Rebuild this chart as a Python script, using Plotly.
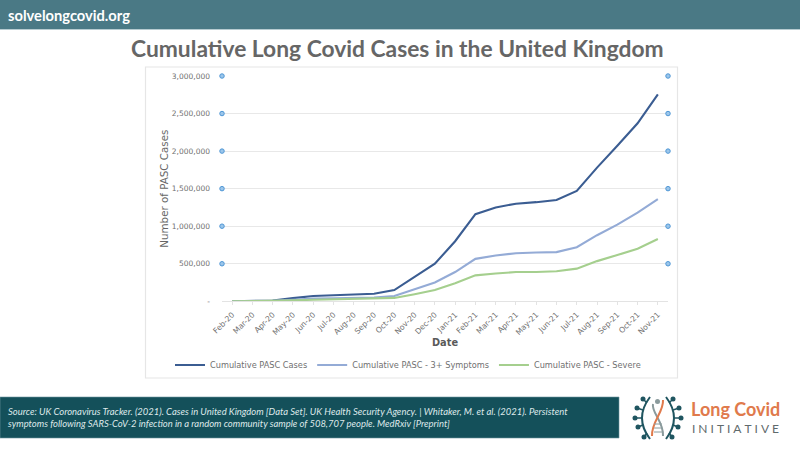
import plotly.graph_objects as go

months = ["Feb-20","Mar-20","Apr-20","May-20","Jun-20","Jul-20","Aug-20","Sep-20","Oct-20","Nov-20","Dec-20",
          "Jan-21","Feb-21","Mar-21","Apr-21","May-21","Jun-21","Jul-21","Aug-21","Sep-21","Oct-21","Nov-21"]
pasc_cases = [0,3000,10000,42000,70000,80000,90000,100000,150000,320000,500000,
              800000,1160000,1250000,1300000,1320000,1350000,1470000,1780000,2070000,2370000,2756000]
pasc_three = [0,2000,5000,20000,35000,40000,45000,50000,70000,155000,250000,
              390000,565000,610000,640000,650000,655000,720000,880000,1020000,1180000,1360000]
pasc_severe = [0,1000,3000,12000,20000,25000,28000,30000,45000,95000,150000,
               240000,345000,370000,390000,390000,400000,435000,535000,615000,700000,830000]
y_ticks = [0,500000,1000000,1500000,2000000,2500000,3000000]
y_labels = ["-","500,000","1,000,000","1,500,000","2,000,000","2,500,000","3,000,000"]
handle_values = y_ticks[1:]

W, H = 800, 450
def px(x): return x / W
def py(y): return 1 - y / H

fig = go.Figure()
CHART_FONT = "DejaVu Sans"
TEXT = "#707070"

for name, vals, col in [("Cumulative PASC Cases", pasc_cases, "#3b5d92"),
                        ("Cumulative PASC - 3+ Symptoms", pasc_three, "#94abd6"),
                        ("Cumulative PASC - Severe", pasc_severe, "#a5cf8e")]:
    fig.add_trace(go.Scatter(x=months, y=vals, mode="lines", name=name,
                             line=dict(color=col, width=2.1)))
for xpos in (0, 1):
    fig.add_trace(go.Scatter(x=[xpos]*len(handle_values), y=handle_values, mode="markers", xaxis="x2",
                             showlegend=False, cliponaxis=False, hoverinfo="skip",
                             marker=dict(size=4.5, color="#9cc6ea", line=dict(color="#4f97d6", width=1))))

shapes = [
    dict(type="rect", xref="paper", yref="paper", x0=px(0), x1=px(800), y0=py(0), y1=py(29),
         fillcolor="#4a7985", line_width=0, layer="below"),
    dict(type="line", xref="paper", yref="paper", x0=px(0), x1=px(800), y0=py(29.5), y1=py(29.5),
         line=dict(color="#b7ccd1", width=1), layer="below"),
    dict(type="rect", xref="paper", yref="paper", x0=px(145.5), x1=px(677.5), y0=py(67), y1=py(378),
         fillcolor="white", line=dict(color="#e6e6e6", width=1.2), layer="below"),
    dict(type="rect", xref="paper", yref="paper", x0=px(0), x1=px(619), y0=py(397), y1=py(438),
         fillcolor="#14505a", line=dict(color="#6d969d", width=0.6), layer="below"),
]

# Logo artwork
TEAL = "#1f5560"
cx, cy = 658, 418
def pth(points_str):
    return dict(type="path", xref="paper", yref="paper", path=points_str, layer="above")
def P(x, y): return f"{px(x):.5f},{py(y):.5f}"
for s in (-1, 1):
    a = pth(f"M{P(cx+s*8,cy-21)} Q{P(cx+s*24,cy)} {P(cx+s*8,cy+21)}")
    a.update(line=dict(color=TEAL, width=2))
    shapes.append(a)
    for dx, dy, ax, ay in [(15,-19,11,-15),(21,-10,15,-8),(23,0,16,0),(20,9,15,7),(14,19,11,15)]:
        shapes.append(dict(type="line", xref="paper", yref="paper", x0=px(cx+s*ax), y0=py(cy+ay),
                           x1=px(cx+s*dx), y1=py(cy+dy), line=dict(color=TEAL, width=1.5)))
        shapes.append(dict(type="circle", xref="paper", yref="paper",
                           x0=px(cx+s*dx-2.5), x1=px(cx+s*dx+2.5), y0=py(cy+dy-2.5), y1=py(cy+dy+2.5),
                           fillcolor=TEAL, line_width=0))
g = pth(f"M{P(cx-5,cy-14)} C{P(cx-7,cy-6)} {P(cx+6,cy+4)} {P(cx+5,cy+18)}")
g.update(line=dict(color="#8a9a9c", width=2)); shapes.append(g)
g2 = pth(f"M{P(cx+5,cy-18)} C{P(cx+6,cy-6)} {P(cx-7,cy+4)} {P(cx-6,cy+18)}")
g2.update(line=dict(color="#e07a4c", width=2)); shapes.append(g2)
for dy in (6, 10, 14):
    shapes.append(dict(type="line", xref="paper", yref="paper", x0=px(cx-4), x1=px(cx+4),
                       y0=py(cy+dy), y1=py(cy+dy), line=dict(color="#8a9a9c", width=1)))
shapes.append(dict(type="circle", xref="paper", yref="paper", x0=px(cx-3), x1=px(cx+2),
                   y0=py(cy-19), y1=py(cy-14), fillcolor="#8a9a9c", line_width=0))

def note(x, y, text, size, color, family="Lato", anchor="left", bold=False, **kw):
    return dict(xref="paper", yref="paper", x=px(x), y=py(y), text=f"<b>{text}</b>" if bold else text,
                showarrow=False, xanchor=anchor, yanchor="middle", align="left",
                font=dict(family=family, size=size, color=color), **kw)

annotations = [
    note(6, 14.5, "solvelongcovid.org", 14.7, "white", bold=True),
    note(397, 48, "Cumulative Long Covid Cases in the United Kingdom", 22.8, "#666666", anchor="center", bold=True),
    note(5.5, 417.5, "<i>Source: UK Coronavirus Tracker. (2021). Cases in United Kingdom [Data Set]. UK Health Security Agency. | Whitaker, M. et al. (2021). Persistent<br>symptoms following SARS-CoV-2 infection in a random community sample of 508,707 people. MedRxiv [Preprint]</i>",
         9.45, "#dfe9ea"),
    note(689, 408.5, "Long Covid", 18, "#e07a4c", bold=True),
    note(690, 428, "I\u2005N\u2005I\u2005T\u2005I\u2005A\u2005T\u2005I\u2005V\u2005E", 12, "#5f6a6c", family="Lato"),
]

fig.update_layout(
    width=W, height=H, autosize=False, paper_bgcolor="white", plot_bgcolor="white",
    margin=dict(l=0, r=0, t=0, b=0, autoexpand=False), shapes=shapes, annotations=annotations,
    font=dict(family=CHART_FONT, color=TEXT, size=8),
    xaxis=dict(domain=[px(222), px(668)], range=[-0.5, 21.5], type="category",
               categoryorder="array", categoryarray=months, tickmode="array",
               tickvals=months, ticktext=months, tickangle=-45,
               tickfont=dict(size=7.7, color=TEXT), showgrid=False, zeroline=False,
               showline=True, linecolor="#e3e3e3", linewidth=1, ticks="outside", ticklen=3,
               tickcolor="#e3e3e3", ticklabelstandoff=2,
               title=dict(text="<b>Date</b>", font=dict(size=9.8, color="#595959"), standoff=3)),
    xaxis2=dict(overlaying="x", domain=[px(222), px(668)], range=[0, 1], visible=False, anchor="y"),
    yaxis=dict(domain=[py(301.3), py(76)], range=[0, 3000000], tickmode="array",
               tickvals=y_ticks, ticktext=y_labels, ticks="", ticklabelstandoff=11,
               tickfont=dict(size=7.5, color=TEXT), gridcolor="#e8e8e8", gridwidth=1,
               zeroline=False, showline=False,
               title=dict(text="Number of PASC Cases", font=dict(size=10.3, color="#666666"), standoff=1)),
    legend=dict(orientation="h", x=px(408), xanchor="center", y=py(365), yanchor="middle",
                font=dict(size=8.2, color=TEXT), itemwidth=30, tracegroupgap=0, bgcolor="rgba(0,0,0,0)"),
)
fig.write_html("out.html", config=dict(displayModeBar=False),
               post_script="document.body.style.margin='0';document.body.style.overflow='hidden';")
